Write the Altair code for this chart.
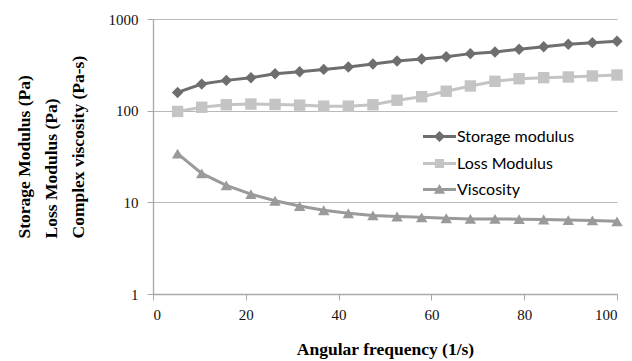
import altair as alt
import pandas as pd

freq = [5.3, 10.5, 15.8, 21.1, 26.3, 31.6, 36.8, 42.1, 47.4, 52.6,
        57.9, 63.2, 68.4, 73.7, 78.9, 84.2, 89.5, 94.7, 100.0]
storage = [158, 195, 214, 229, 253, 266, 282, 300, 323, 348,
           366, 388, 419, 437, 467, 499, 530, 552, 571]
loss = [98, 109, 116, 118, 117, 115, 112, 112, 116, 130,
        142, 163, 186, 209, 223, 229, 233, 239, 245]
viscosity = [34, 20.7, 15.3, 12.3, 10.4, 9.1, 8.2, 7.6, 7.2, 7.0,
             6.86, 6.7, 6.6, 6.6, 6.55, 6.5, 6.4, 6.35, 6.2]

series_names = ["Storage modulus", "Loss Modulus", "Viscosity"]
series_colors = ["#6e6e6e", "#c4c4c4", "#9a9a9a"]
marker_shapes = ["diamond", "square", "triangle-up"]
# legend glyphs: a short line segment (thin filled bar) with the marker on it
legend_paths = [
    "M-1,-0.09H1V0.09H-1ZM0,-0.34L0.34,0L0,0.34L-0.34,0Z",
    "M-1,-0.09H1V0.09H-1ZM-0.28,-0.28H0.28V0.28H-0.28Z",
    "M-1,-0.09H1V0.09H-1ZM0,-0.34L0.34,0.26L-0.34,0.26Z",
]

rows = []
for name, vals in zip(series_names, [storage, loss, viscosity]):
    for f, v in zip(freq, vals):
        rows.append({"freq": f, "value": v, "series": name})
df = pd.DataFrame(rows)

serif = "Liberation Serif"

x_enc = alt.X("freq:Q", scale=alt.Scale(domain=[0, 100], nice=False),
              axis=alt.Axis(values=[0, 20, 40, 60, 80, 100], grid=False,
                            labelFont=serif, titleFont=serif,
                            title="Angular frequency (1/s)", titlePadding=18))
y_enc = alt.Y("value:Q", scale=alt.Scale(type="log", domain=[1, 1000], nice=False),
              axis=alt.Axis(values=[1, 10, 100, 1000], format="d", grid=True,
                            labelFont=serif, titleFont=serif,
                            title=["Storage Modulus (Pa)", "Loss Modulus (Pa)",
                                   "Complex viscosity (Pa-s)"],
                            titleAngle=-90, titleAlign="left", titleBaseline="top",
                            titleX=-138, titleY=219, titleLineHeight=27))

layers = []
for i, (name, col, shp) in enumerate(zip(series_names, series_colors, marker_shapes)):
    base = alt.Chart(df).transform_filter(alt.datum.series == name)
    layers.append(base.mark_line(strokeWidth=3, color=col).encode(
        x=x_enc if i == 0 else "freq:Q", y=y_enc if i == 0 else "value:Q"))
for name, col, shp in zip(series_names, series_colors, marker_shapes):
    base = alt.Chart(df).transform_filter(alt.datum.series == name)
    layers.append(base.mark_point(filled=True, opacity=1, size=130, shape=shp, color=col)
                  .encode(x="freq:Q", y="value:Q"))

# legend-only layer: its points sit below the visible log range and are clipped away
legend_layer = alt.Chart(df).transform_calculate(hidden="0.001").mark_point(
    filled=True, clip=True
).encode(
    x="freq:Q", y="hidden:Q",
    fill=alt.Fill("series:N", scale=alt.Scale(domain=series_names, range=series_colors),
                  legend=alt.Legend(title=None)),
    shape=alt.Shape("series:N", scale=alt.Scale(domain=series_names, range=legend_paths),
                    legend=alt.Legend(title=None)),
)
layers.append(legend_layer)

chart = alt.layer(*layers).properties(
    width=464, height=275,
    autosize=alt.AutoSizeParams(type="none"),
    padding={"left": 145, "top": 11, "right": 7, "bottom": 67},
).configure_view(stroke=None).configure_axis(
    labelFont=serif, labelFontSize=15, labelColor="#111111",
    titleFont=serif, titleFontSize=17.5, titleFontWeight="bold", titleColor="#000000",
    domainColor="#a8a8a8", tickColor="#a8a8a8", gridColor="#b8b8b8", tickSize=6,
    labelPadding=4, domainWidth=1.3, gridWidth=1.2,
).configure_axisY(labelPadding=9).configure_axisX(labelPadding=7).configure_legend(
    orient="none", legendX=269, legendY=100,
    symbolSize=1089, symbolOpacity=1,
    labelFont="Lato", labelFontSize=16, labelColor="#000000",
    labelOffset=0, rowPadding=0,
)

chart.save("out.html", embed_options={"renderer": "svg", "actions": False})
